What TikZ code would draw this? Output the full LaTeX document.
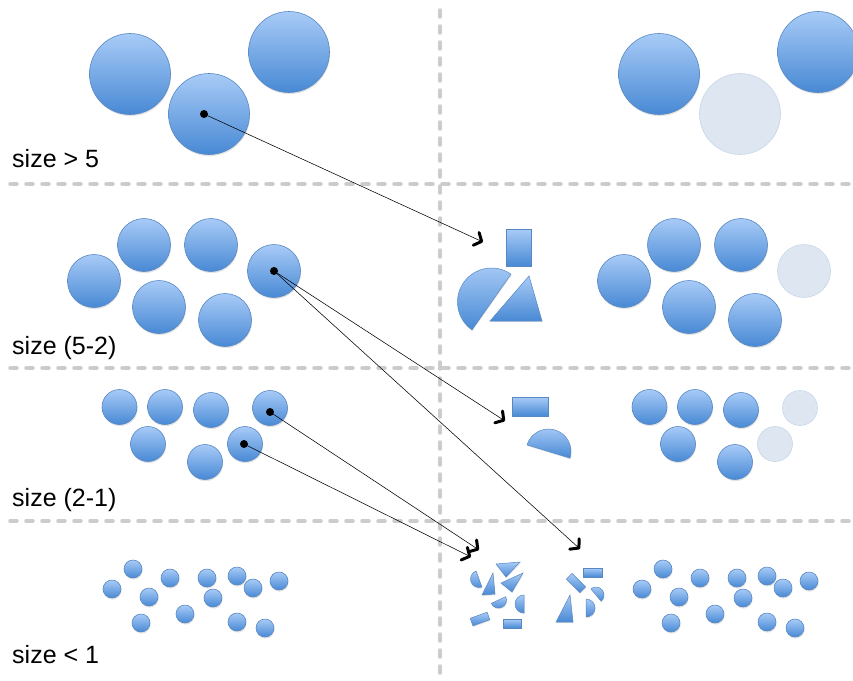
\documentclass[tikz,border=0pt]{standalone}
\usepackage{fontspec}
\setmainfont{Liberation Sans}
\usetikzlibrary{arrows.meta,shadows}
\definecolor{btop}{RGB}{168,203,247}
\definecolor{bbot}{RGB}{72,137,212}
\definecolor{bedge}{RGB}{88,136,194}
\definecolor{ffill}{RGB}{221,230,241}
\definecolor{fedge}{RGB}{200,215,232}
\definecolor{dgray}{RGB}{204,204,204}
\tikzset{
  blob/.style={circle, inner sep=0pt, draw=bedge, line width=0.6pt, top color=btop, bottom color=bbot,
    drop shadow={shadow xshift=0.6pt, shadow yshift=-1.6pt, opacity=0.22}},
  ghost/.style={circle, inner sep=0pt, draw=fedge, line width=0.6pt, fill=ffill},
  bigc/.style={minimum size=81pt},
  midc/.style={minimum size=53pt},
  smlc/.style={minimum size=35pt},
  tinyc/.style={minimum size=18pt},
  piece/.style={draw=bedge, line width=0.5pt, top color=btop, bottom color=bbot,
    drop shadow={shadow xshift=0.5pt, shadow yshift=-1.2pt, opacity=0.22}},
  blackdot/.style={circle, fill=black, inner sep=0pt, minimum size=8pt},
  link/.style={draw=black, line width=0.55pt, -{Straight Barb[length=6pt,width=14pt,line width=3pt,round]}},
  sepline/.style={draw=dgray, line width=3.5pt, dash pattern=on 7pt off 9pt, line cap=round},
  lbl/.style={font=\fontsize{25}{30}\selectfont, anchor=base west, inner sep=0pt}
}
\newcommand{\hdisc}[4]{\path[piece] (#1,#2) ++({#4-90}:#3) arc[start angle={#4-90}, end angle={#4+90}, radius=#3] -- cycle;}
\newcommand{\rrect}[5]{\path[piece, rotate around={#5:(#1,#2)}] ({#1-#3/2},{#2-#4/2}) rectangle ({#1+#3/2},{#2+#4/2});}
\begin{document}
\begin{tikzpicture}[x=1pt,y=-1pt]
\useasboundingbox (0,0) rectangle (853,680);
% separators
\path[sepline] (10,184) -- (853,184);
\path[sepline] (10,368) -- (853,368);
\path[sepline] (10,521) -- (853,521);
\path[sepline] (440,10) -- (440,678);
% labels
\node[lbl] (l1) at (12,167) {size > 5};
\node[lbl] (l2) at (12,354) {size (5-2)};
\node[lbl] (l3) at (12,506) {size (2-1)};
\node[lbl] (l4) at (12,663) {size < 1};
% row 1
\node[blob,bigc] (a1) at (130,74) {};
\node[blob,bigc] (a2) at (209,114) {};
\node[blob,bigc] (a3) at (289,52) {};
\node[blob,bigc] (a4) at (659,74) {};
\node[ghost,bigc] (a5) at (740,114) {};
\node[blob,bigc] (a6) at (818,52) {};
% row 2
\node[blob,midc] (b1) at (94,281) {};
\node[blob,midc] (b2) at (144,245) {};
\node[blob,midc] (b3) at (211,245) {};
\node[blob,midc] (b4) at (159,307) {};
\node[blob,midc] (b5) at (225,320) {};
\node[blob,midc] (b6) at (274,271) {};
\node[blob,midc] (b7) at (624,281) {};
\node[blob,midc] (b8) at (674,245) {};
\node[blob,midc] (b9) at (741,245) {};
\node[blob,midc] (b10) at (689,307) {};
\node[blob,midc] (b11) at (755,320) {};
\node[ghost,midc] (b12) at (804,271) {};
% row 3
\node[blob,smlc] (c1) at (119.5,407) {};
\node[blob,smlc] (c2) at (165,407) {};
\node[blob,smlc] (c3) at (211,410) {};
\node[blob,smlc] (c4) at (270,408) {};
\node[blob,smlc] (c5) at (148,444) {};
\node[blob,smlc] (c6) at (205,462) {};
\node[blob,smlc] (c7) at (245,444) {};
\node[blob,smlc] (c8) at (649.5,407) {};
\node[blob,smlc] (c9) at (695,407) {};
\node[blob,smlc] (c10) at (741,410) {};
\node[ghost,smlc] (c11) at (800,408) {};
\node[blob,smlc] (c12) at (678,444) {};
\node[blob,smlc] (c13) at (735,462) {};
\node[ghost,smlc] (c14) at (775,444) {};
% row 4
\foreach \px/\py [count=\i] in {112/589,133/569,170/578,149/597,141/623,185/614,207/578,213/598,237/576,253/588,279/581,237/622,265/628}{
  \node[blob,tinyc] (dl\i) at (\px,\py) {};
  \node[blob,tinyc] (dr\i) at (\px+530,\py) {};
}
% fragments from size > 5
\path[piece] (506,229) rectangle (531,266);
\hdisc{491.5}{302}{34}{-145}
\path[piece] (529,276) -- (490,321) -- (542,321) -- cycle;
% fragments from size (5-2)
\path[piece] (512,397) rectangle (548,416);
\hdisc{548.5}{451.5}{22.5}{-73}
% fragments from size (2-1), left cluster
\hdisc{479}{579}{8.5}{160}
\path[piece] (493,573) -- (482,595) -- (495,594) -- cycle;
\path[piece] (496,564) -- (520,562) -- (506,577) -- cycle;
\path[piece] (501,583) -- (523,573) -- (512,592) -- cycle;
\hdisc{498.5}{600}{8}{65}
\hdisc{524}{604}{9}{180}
\rrect{480}{619}{18}{8}{20}
\path[piece] (503,619) rectangle (521,628);
% right cluster
\rrect{576}{583}{19}{8}{-45}
\path[piece] (583,568) rectangle (602,577);
\hdisc{596}{595}{8}{-40}
\hdisc{586}{608}{9}{0}
\path[piece] (570,595) -- (556,622) -- (573,622) -- cycle;
% dots
\node[blackdot] (p1) at (204,114) {};
\node[blackdot] (p2) at (274,271) {};
\node[blackdot] (p3) at (270,412) {};
\node[blackdot] (p4) at (244,444) {};
% arrow ends
\coordinate (t1) at (483,242);
\coordinate (t2) at (505,421);
\coordinate (t3) at (580,549);
\coordinate (t4) at (479,550);
\coordinate (t5) at (471,557);
\draw[link] (p1.center) -- (t1);
\draw[link] (p2.center) -- (t2);
\draw[link] (p2.center) -- (t3);
\draw[link] (p3.center) -- (t4);
\draw[link] (p4.center) -- (t5);
\end{tikzpicture}
\end{document}
